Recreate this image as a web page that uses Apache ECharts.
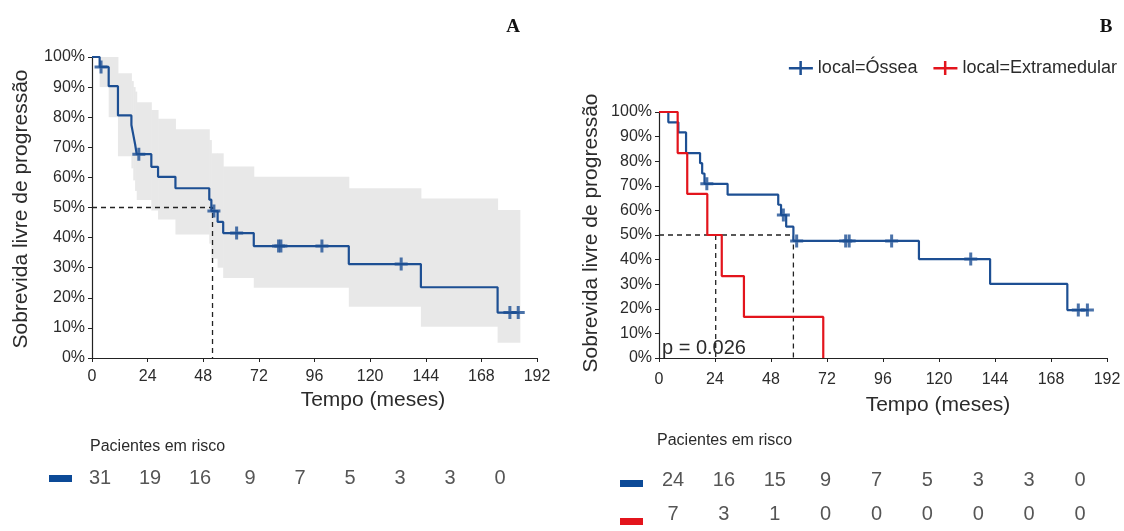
<!DOCTYPE html>
<html><head><meta charset="utf-8">
<script src="https://cdn.jsdelivr.net/npm/echarts@6/dist/echarts.min.js"></script>
<style>html,body{margin:0;padding:0;background:#fff}#c{width:1124px;height:531px}</style>
</head><body><div id="c"></div>
<script>
// ---------- Panel A (all patients) ----------
const timesA = [0, 3.3, 7.2, 11.2, 17.0, 17.8, 18.6, 19.3, 25.6, 28.5, 36.0, 50.6, 51.5, 54.2, 56.6, 69.8, 110.8, 141.9, 175.0, 184.5];
const survA  = [100, 96.7, 90.3, 80.6, 77.4, 74.2, 71.0, 67.7, 63.5, 60.2, 56.4, 52.6, 48.8, 45.2, 41.5, 37.2, 31.2, 23.5, 15.1, 15.1];
const censTimeA = [3.9, 20.2, 52.6, 62.4, 80.5, 81.5, 99.2, 133.4, 180.3, 183.9];
const censSurvA = [96.7, 67.7, 48.8, 41.5, 37.2, 37.2, 37.2, 31.2, 15.1, 15.1];
const bandTimesA = [0, 3.3, 7.2, 11.2, 17.0, 17.8, 18.6, 19.3, 25.6, 28.5, 36.0, 50.6, 51.5, 54.2, 56.6, 69.8, 110.8, 141.9, 175.0, 184.6];
const bandUpperA = [100, 100, 100, 94.6, 92, 90, 88.5, 85, 82.4, 79.5, 76, 72.4, 68, 68, 63.6, 60.2, 56.4, 53, 49.2];
const bandLowerA = [100, 90, 80, 67, 63, 59, 55.5, 52.5, 49, 46, 41, 38, 33, 30, 26.6, 23.3, 17, 10.4, 5.1];
const medianA = 52;
const riskTimes = [0, 24, 48, 72, 96, 120, 144, 168, 192];
const riskA = [31, 19, 16, 9, 7, 5, 3, 3, 0];

// ---------- Panel B (by site) ----------
const nameOssea = 'local=Óssea';
const nameExtra = 'local=Extramedular';
const timesB1 = [0, 4.0, 8.3, 11.6, 17.6, 18.5, 19.5, 29.4, 51.1, 52.3, 54.5, 57.6, 111.4, 141.9, 175.0, 184.2];
const survB1  = [100, 95.8, 91.7, 83.3, 79.2, 75.0, 70.8, 66.4, 62.3, 58.1, 53.4, 47.6, 40.2, 30.1, 19.5, 19.5];
const censTimeB1 = [20.5, 53.3, 59.0, 80.0, 81.5, 99.7, 133.6, 179.7, 183.6];
const censSurvB1 = [70.8, 58.1, 47.6, 47.6, 47.6, 47.6, 40.2, 19.5, 19.5];
const timesB2 = [0, 8.0, 12.1, 20.7, 26.9, 36.4, 70.4];
const survB2  = [100, 83.3, 66.7, 50.0, 33.3, 16.7, 0];
const medianB1 = 57.6;
const medianB2 = 24.3;
const riskB1 = [24, 16, 15, 9, 7, 5, 3, 3, 0];
const riskB2 = [7, 3, 1, 0, 0, 0, 0, 0, 0];
const pValue = 'p = 0.026';

const BLUE = '#1d4f93';
const RED = '#e3141c';
const BAND = '#e8e8e8';
const TXT = '#2b2b2b';
const FONT = 'Liberation Sans, Arial, sans-serif';
const CROSS = 'path://M5,0H8V5H13V8H8V13H5V8H0V5H5Z';

const zip = (a, b) => a.map((v, i) => [v, b[i]]);

const bandData = bandUpperA.map((u, i) => [bandTimesA[i], bandTimesA[i + 1], bandLowerA[i], u]);

function xAxisPlot(gi, margin) {
  return {
    gridIndex: gi, type: 'value', min: 0, max: 192, interval: 24,
    axisLine: { show: true, onZero: false, lineStyle: { color: '#222', width: 1.2 } },
    axisTick: { show: true, length: 4, lineStyle: { color: '#222' } },
    axisLabel: { fontSize: 16, color: TXT, fontFamily: FONT, margin: margin },
    splitLine: { show: false }
  };
}
function yAxisPlot(gi) {
  return {
    gridIndex: gi, type: 'value', min: 0, max: 100, interval: 10,
    axisLine: { show: true, onZero: false, lineStyle: { color: '#222', width: 1.2 } },
    axisTick: { show: true, length: 4, lineStyle: { color: '#222' } },
    axisLabel: { fontSize: 16, color: TXT, fontFamily: FONT, margin: 7, formatter: '{value}%' },
    splitLine: { show: false }
  };
}
function hiddenX(gi) {
  return { gridIndex: gi, type: 'value', min: 0, max: 192, show: false, splitLine: { show: false } };
}

const riskLabel = {
  show: true, position: 'inside', formatter: p => String(p.value[2]),
  fontSize: 20, color: TXT, fontFamily: FONT
};

const option = {
  animation: false,
  backgroundColor: '#fff',
  textStyle: { fontFamily: FONT },
  grid: [
    { left: 92, top: 57, width: 445, height: 301 },
    { left: 659, top: 112, width: 448, height: 246 },
    { left: 100, top: 468, width: 400, height: 20 },
    { left: 673, top: 464, width: 407, height: 76 }
  ],
  xAxis: [xAxisPlot(0, 11), xAxisPlot(1, 14), hiddenX(2), hiddenX(3)],
  yAxis: [
    yAxisPlot(0), yAxisPlot(1),
    { gridIndex: 2, type: 'category', data: ['all'], show: false },
    { gridIndex: 3, type: 'category', data: [nameExtra, nameOssea], show: false }
  ],
  legend: {
    data: [nameOssea, nameExtra],
    right: 2, top: 54, itemWidth: 24, itemHeight: 14, itemGap: 16,
    icon: 'path://M0,6H24V8.5H0Z M10.5,0H13V14H10.5Z',
    textStyle: { fontSize: 18, color: TXT, fontFamily: FONT }
  },
  series: [
    {
      type: 'custom', xAxisIndex: 0, yAxisIndex: 0, z: 1, silent: true,
      data: bandData,
      renderItem: (params, api) => {
        const p0 = api.coord([api.value(0), api.value(3)]);
        const p1 = api.coord([api.value(1), api.value(2)]);
        return { type: 'rect', shape: { x: p0[0], y: p0[1], width: p1[0] - p0[0] + 0.5, height: p1[1] - p0[1] },
                 style: { fill: BAND } };
      }
    },
    {
      type: 'line', xAxisIndex: 0, yAxisIndex: 0, z: 2, symbol: 'none', silent: true,
      data: [[0, 50], [medianA, 50], [medianA, 0]],
      lineStyle: { color: '#222', width: 1.3, type: [5, 4] }
    },
    {
      type: 'line', xAxisIndex: 0, yAxisIndex: 0, z: 3, step: 'end', showSymbol: false, symbol: 'none',
      data: zip(timesA, survA), lineStyle: { color: BLUE, width: 2.2 }
    },
    {
      type: 'scatter', xAxisIndex: 0, yAxisIndex: 0, z: 4, symbol: CROSS, symbolSize: 13,
      data: zip(censTimeA, censSurvA), itemStyle: { color: BLUE }
    },
    {
      type: 'line', xAxisIndex: 1, yAxisIndex: 1, z: 2, symbol: 'none', silent: true,
      data: [[0, 50], [medianB1, 50], [medianB1, 0]],
      lineStyle: { color: '#222', width: 1.3, type: [5, 4] }
    },
    {
      type: 'line', xAxisIndex: 1, yAxisIndex: 1, z: 2, symbol: 'none', silent: true,
      data: [[medianB2, 50], [medianB2, 0]],
      lineStyle: { color: '#222', width: 1.3, type: [5, 4] }
    },
    {
      name: nameOssea, type: 'line', xAxisIndex: 1, yAxisIndex: 1, z: 3, step: 'end', showSymbol: false, symbol: 'none',
      data: zip(timesB1, survB1), lineStyle: { color: BLUE, width: 2.2 }, itemStyle: { color: BLUE }
    },
    {
      name: nameExtra, type: 'line', xAxisIndex: 1, yAxisIndex: 1, z: 3, step: 'end', showSymbol: false, symbol: 'none',
      data: zip(timesB2, survB2), lineStyle: { color: RED, width: 2.2 }, itemStyle: { color: RED }
    },
    {
      type: 'scatter', xAxisIndex: 1, yAxisIndex: 1, z: 4, symbol: CROSS, symbolSize: 13,
      data: zip(censTimeB1, censSurvB1), itemStyle: { color: BLUE }
    },
    {
      type: 'scatter', xAxisIndex: 2, yAxisIndex: 2, symbolSize: 0, silent: true,
      data: riskTimes.map((t, i) => [t, 'all', riskA[i]]), label: riskLabel
    },
    {
      type: 'scatter', xAxisIndex: 3, yAxisIndex: 3, symbolSize: 0, silent: true,
      data: riskTimes.map((t, i) => [t, nameOssea, riskB1[i]]), label: riskLabel
    },
    {
      type: 'scatter', xAxisIndex: 3, yAxisIndex: 3, symbolSize: 0, silent: true,
      data: riskTimes.map((t, i) => [t, nameExtra, riskB2[i]]), label: riskLabel
    }
  ],
  graphic: [
    { type: 'text', x: 513, y: 27, style: { text: 'A', font: 'bold 19px "Liberation Serif", serif', fill: '#111', textAlign: 'center', textVerticalAlign: 'middle' } },
    { type: 'text', x: 1106, y: 27, style: { text: 'B', font: 'bold 19px "Liberation Serif", serif', fill: '#111', textAlign: 'center', textVerticalAlign: 'middle' } },
    { type: 'text', x: 21, y: 209, rotation: Math.PI / 2, style: { text: 'Sobrevida livre de progressão', font: '21px ' + FONT, fill: TXT, textAlign: 'center', textVerticalAlign: 'middle' } },
    { type: 'text', x: 591, y: 233, rotation: Math.PI / 2, style: { text: 'Sobrevida livre de progressão', font: '21px ' + FONT, fill: TXT, textAlign: 'center', textVerticalAlign: 'middle' } },
    { type: 'text', x: 373, y: 400, style: { text: 'Tempo (meses)', font: '21px ' + FONT, fill: TXT, textAlign: 'center', textVerticalAlign: 'middle' } },
    { type: 'text', x: 938, y: 405, style: { text: 'Tempo (meses)', font: '21px ' + FONT, fill: TXT, textAlign: 'center', textVerticalAlign: 'middle' } },
    { type: 'text', x: 662, y: 348, z: 10, style: { text: pValue, font: '20px ' + FONT, fill: TXT, textAlign: 'left', textVerticalAlign: 'middle' } },
    { type: 'text', x: 90, y: 447, style: { text: 'Pacientes em risco', font: '16px ' + FONT, fill: TXT, textAlign: 'left', textVerticalAlign: 'middle' } },
    { type: 'text', x: 657, y: 441, style: { text: 'Pacientes em risco', font: '16px ' + FONT, fill: TXT, textAlign: 'left', textVerticalAlign: 'middle' } },
    { type: 'rect', shape: { x: 49, y: 475, width: 23, height: 7 }, style: { fill: '#0c4a97' } },
    { type: 'rect', shape: { x: 620, y: 480, width: 23, height: 7 }, style: { fill: '#0c4a97' } },
    { type: 'rect', shape: { x: 620, y: 518, width: 23, height: 7 }, style: { fill: RED } }
  ]
};

const chart = echarts.init(document.getElementById('c'), null, { renderer: 'canvas' });
chart.setOption(option);
</script>
</body></html>
